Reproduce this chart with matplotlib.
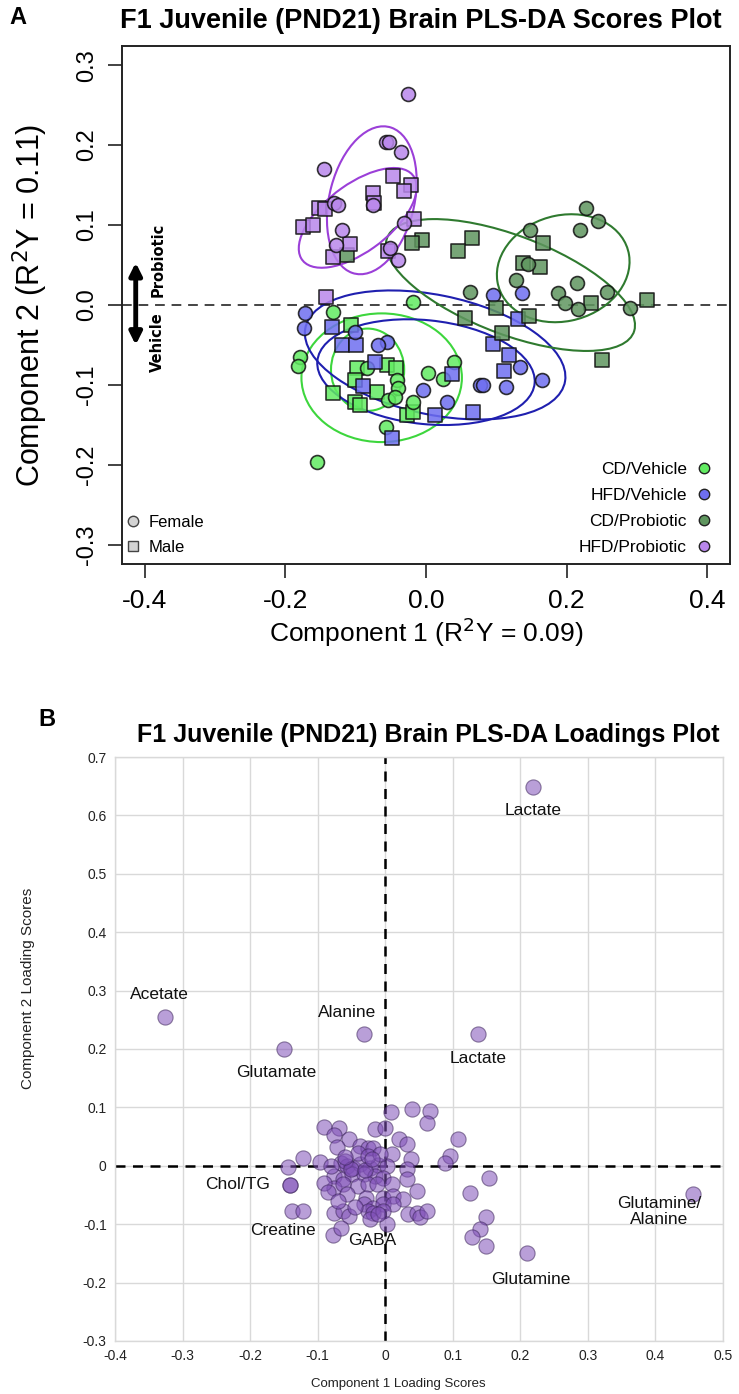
import matplotlib
matplotlib.use("Agg")
import matplotlib.pyplot as plt
from matplotlib import font_manager as fm
from matplotlib.patches import Ellipse
from matplotlib.lines import Line2D

names = {f.name for f in fm.fontManager.ttflist}
NARROW = 'Liberation Sans Narrow' if 'Liberation Sans Narrow' in names else 'Liberation Sans'
ARIAL = 'Liberation Sans'

# ---------------- Panel A data (PLS-DA scores) ----------------
groups = ["CD/Vehicle", "HFD/Vehicle", "CD/Probiotic", "HFD/Probiotic"]
group_colors = ["#62EC62", "#6E6EF0", "#5F965F", "#B987EB"]
ellipse_colors = ["#3DD63D", "#1F1FAF", "#2F7A2F", "#9B3FD8"]

cdveh_f_x = [-0.132, -0.018, -0.179, -0.182, -0.084, -0.041, -0.040, 0.003, 0.024, 0.040, -0.054, -0.044, -0.018, -0.057, -0.155]
cdveh_f_y = [-0.009, 0.004, -0.065, -0.076, -0.079, -0.094, -0.104, -0.085, -0.093, -0.071, -0.119, -0.115, -0.121, -0.153, -0.197]
cdveh_m_x = [-0.107, -0.098, -0.055, -0.043, -0.101, -0.070, -0.132, -0.101, -0.094, -0.027, -0.018]
cdveh_m_y = [-0.025, -0.079, -0.075, -0.079, -0.094, -0.109, -0.110, -0.121, -0.125, -0.138, -0.134]

hfdveh_f_x = [-0.172, -0.173, -0.101, -0.055, -0.068, -0.004, 0.030, 0.077, 0.095, 0.137, 0.134, 0.165, 0.081, 0.114]
hfdveh_f_y = [-0.010, -0.029, -0.034, -0.046, -0.050, -0.106, -0.121, -0.100, 0.012, 0.015, -0.077, -0.094, -0.100, -0.102]
hfdveh_m_x = [-0.134, -0.119, -0.100, -0.073, -0.090, 0.037, 0.013, 0.067, 0.131, 0.095, 0.118, 0.111, -0.048]
hfdveh_m_y = [-0.027, -0.050, -0.050, -0.071, -0.101, -0.086, -0.138, -0.134, -0.018, -0.049, -0.062, -0.083, -0.166]

cdpro_f_x = [0.227, 0.244, 0.219, 0.148, 0.145, 0.128, 0.215, 0.188, 0.198, 0.216, 0.257, 0.290, 0.063]
cdpro_f_y = [0.121, 0.105, 0.094, 0.094, 0.051, 0.031, 0.028, 0.015, 0.002, -0.005, 0.016, -0.004, 0.016]
cdpro_m_x = [0.166, 0.138, 0.162, 0.065, 0.046, -0.006, -0.020, -0.112, 0.235, 0.314, 0.100, 0.055, 0.146, 0.108, 0.250]
cdpro_m_y = [0.078, 0.052, 0.048, 0.084, 0.068, 0.081, 0.078, 0.062, 0.002, 0.006, -0.004, -0.016, -0.014, -0.035, -0.069]

hfdpro_f_x = [-0.026, -0.057, -0.053, -0.036, -0.145, -0.131, -0.125, -0.075, -0.031, -0.119, -0.128, -0.051, -0.040]
hfdpro_f_y = [0.264, 0.204, 0.204, 0.191, 0.170, 0.128, 0.125, 0.125, 0.103, 0.094, 0.075, 0.071, 0.056]
hfdpro_m_x = [-0.047, -0.021, -0.031, -0.075, -0.074, -0.152, -0.144, -0.175, -0.161, -0.017, -0.108, -0.132, -0.054, -0.142]
hfdpro_m_y = [0.161, 0.150, 0.143, 0.140, 0.127, 0.121, 0.120, 0.097, 0.100, 0.107, 0.076, 0.060, 0.068, 0.010]

# ellipses: group index, centre x, centre y, width, height, angle
ell_group = [0, 0, 1, 1, 2, 2, 3, 3]
ell_cx = [-0.063, -0.083, 0.013, 0.000, 0.195, 0.120, -0.077, -0.097]
ell_cy = [-0.091, -0.081, -0.0625, -0.084, 0.046, 0.025, 0.131, 0.109]
ell_w = [0.228, 0.104, 0.375, 0.310, 0.190, 0.370, 0.120, 0.190]
ell_h = [0.161, 0.103, 0.150, 0.130, 0.133, 0.125, 0.190, 0.087]
ell_ang = [0, 0, -10, -5, 10, -18, -17, 32]

score_xticks = [-0.4, -0.2, 0.0, 0.2, 0.4]
score_xticklabels = ["-0.4", "-0.2", "0.0", "0.2", "0.4"]
score_yticks = [-0.3, -0.2, -0.1, 0.0, 0.1, 0.2, 0.3]
score_yticklabels = ["-0.3", "-0.2", "-0.1", "0.0", "0.1", "0.2", "0.3"]

# ---------------- Panel B data (PLS-DA loadings) ----------------
load_x = [0.219, -0.326, -0.031, 0.138, -0.150, 0.456, 0.210, -0.141, -0.141, -0.138, -0.121,
          0.009, 0.040, 0.066, 0.062, -0.091, -0.068, -0.076, -0.015, -0.001, -0.054, 0.021, 0.032,
          0.107, -0.072, -0.037, -0.026, -0.018, 0.096, 0.088, 0.010, 0.038, -0.121, -0.096, -0.144,
          -0.066, -0.056, -0.047, -0.037, -0.022, -0.010, 0.003, 0.032, 0.032, 0.154,
          -0.076, -0.062, -0.049, -0.032, -0.015, -0.003, 0.125,
          -0.076, -0.062, -0.041, -0.025, -0.012, 0.010, 0.047,
          -0.056, -0.029, -0.003, 0.012, 0.026, -0.032, -0.018, -0.004, 0.012,
          -0.076, -0.063, -0.054, -0.026, -0.018, -0.003, 0.034, 0.047, 0.051, 0.062,
          0.149, 0.140, 0.129, 0.149, -0.078, -0.066, 0.003, -0.022, -0.010,
          -0.041, -0.025, -0.007, -0.059, -0.050, -0.030, -0.020, -0.060, -0.080, -0.090, -0.085, -0.070, -0.045]
load_y = [0.649, 0.255, 0.226, 0.226, 0.200, -0.048, -0.150, -0.033, -0.033, -0.077, -0.077,
          0.092, 0.098, 0.094, 0.074, 0.067, 0.065, 0.053, 0.063, 0.065, 0.046, 0.046, 0.038,
          0.046, 0.033, 0.034, 0.031, 0.031, 0.017, 0.005, 0.021, 0.012, 0.014, 0.007, -0.002,
          0.005, 0.000, -0.003, 0.003, -0.003, 0.002, 0.000, -0.005, -0.022, -0.021,
          -0.017, -0.022, -0.014, -0.014, -0.017, -0.021, -0.046,
          -0.038, -0.031, -0.034, -0.031, -0.031, -0.031, -0.043,
          -0.048, -0.055, -0.055, -0.051, -0.057, -0.065, -0.072, -0.065, -0.065,
          -0.080, -0.077, -0.086, -0.077, -0.080, -0.077, -0.082, -0.080, -0.087, -0.077,
          -0.087, -0.108, -0.122, -0.137, -0.118, -0.106, -0.099, -0.091, -0.082,
          0.022, 0.017, 0.021, 0.009, -0.005, -0.008, 0.012, 0.015, 0.000, -0.030, -0.045, -0.060, -0.070]

lab_text = ["Lactate", "Acetate", "Alanine", "Lactate", "Glutamate", "Glutamine/\nAlanine",
            "Glutamine", "Chol/TG", "Creatine", "GABA"]
lab_x = [0.219, -0.335, -0.057, 0.138, -0.162, 0.405, 0.215, -0.219, -0.151, -0.019]
lab_y = [0.608, 0.294, 0.262, 0.183, 0.159, -0.078, -0.195, -0.032, -0.111, -0.128]

load_xticks = [-0.4, -0.3, -0.2, -0.1, 0.0, 0.1, 0.2, 0.3, 0.4, 0.5]
load_xticklabels = ["-0.4", "-0.3", "-0.2", "-0.1", "0", "0.1", "0.2", "0.3", "0.4", "0.5"]
load_yticks = [-0.3, -0.2, -0.1, 0.0, 0.1, 0.2, 0.3, 0.4, 0.5, 0.6, 0.7]
load_yticklabels = ["-0.3", "-0.2", "-0.1", "0", "0.1", "0.2", "0.3", "0.4", "0.5", "0.6", "0.7"]

W, H = 739, 1394
fig = plt.figure(figsize=(W / 100, H / 100), dpi=100)

def fx(px):
    return px / W

def fy(py):
    return 1 - py / H

# ================= Panel A =================
AX_L, AX_R, AX_T, AX_B = 122, 730, 46, 564
ax1 = fig.add_axes([fx(AX_L), fy(AX_B), (AX_R - AX_L) / W, (AX_B - AX_T) / H])
ax1.set_xlim(-0.432, 0.432)
ax1.set_ylim(-0.324, 0.324)

ax1.axhline(0, color="#444444", lw=1.4, ls=(0, (5, 3.5)), zorder=1)

for g, cx, cy, w, h, a in zip(ell_group, ell_cx, ell_cy, ell_w, ell_h, ell_ang):
    ax1.add_patch(Ellipse((cx, cy), w, h, angle=a, fill=False,
                          edgecolor=ellipse_colors[g], lw=1.5, zorder=2))

female = [(cdveh_f_x, cdveh_f_y), (hfdveh_f_x, hfdveh_f_y), (cdpro_f_x, cdpro_f_y), (hfdpro_f_x, hfdpro_f_y)]
male = [(cdveh_m_x, cdveh_m_y), (hfdveh_m_x, hfdveh_m_y), (cdpro_m_x, cdpro_m_y), (hfdpro_m_x, hfdpro_m_y)]
for i in range(4):
    ax1.scatter(*male[i], marker="s", s=92, c=group_colors[i], edgecolors="#111111",
                linewidths=1.2, alpha=0.85, zorder=3)
    ax1.scatter(*female[i], marker="o", s=100, c=group_colors[i], edgecolors="#111111",
                linewidths=1.2, alpha=0.85, zorder=3)

ax1.set_xticks(score_xticks)
ax1.set_xticklabels(score_xticklabels, fontfamily=NARROW, fontsize=19)
ax1.set_yticks(score_yticks)
ax1.set_yticklabels(score_yticklabels, fontfamily=NARROW, fontsize=17, rotation=90, va="center")
ax1.tick_params(axis="both", direction="out", length=10, width=1.2, color="#222222")
ax1.tick_params(axis="x", pad=8)
ax1.tick_params(axis="y", pad=7)
for sp in ax1.spines.values():
    sp.set_linewidth(1.4)
    sp.set_color("#222222")

ax1.set_xlabel("Component 1 (R$^2$Y = 0.09)", fontfamily=ARIAL, fontsize=19, labelpad=2)
ax1.set_ylabel("Component 2 (R$^2$Y = 0.11)", fontfamily=ARIAL, fontsize=22, labelpad=19)

fig.text(fx(421), fy(21), "F1 Juvenile (PND21) Brain PLS-DA Scores Plot", ha="center", va="center",
         fontfamily=NARROW, fontweight="bold", fontsize=19.5)
fig.text(fx(9), fy(18), "A", ha="left", va="center", fontfamily=ARIAL, fontweight="bold", fontsize=17)

# Vehicle / Probiotic arrow
ax1.annotate("", xy=(-0.4125, 0.053), xytext=(-0.4125, -0.050),
             arrowprops=dict(arrowstyle="<|-|>", color="black", lw=3.5, mutation_scale=18,
                             shrinkA=0, shrinkB=0), zorder=4)
ax1.text(-0.381, 0.010, "Probiotic", rotation=90, rotation_mode="anchor", ha="left", va="center",
         fontfamily="DejaVu Sans", fontweight="bold", fontsize=10.5)
ax1.text(-0.381, -0.009, "Vehicle", rotation=90, rotation_mode="anchor", ha="right", va="center",
         fontfamily="DejaVu Sans", fontweight="bold", fontsize=10.5)

# legends
h_groups = [Line2D([], [], ls="none", marker="o", markersize=7.5, markerfacecolor=c,
                   markeredgecolor="#222222", markeredgewidth=1.0) for c in group_colors]
leg1 = ax1.legend(h_groups, groups, loc="lower right", bbox_to_anchor=(0.972, 0.017),
                  markerfirst=False, frameon=False, prop={"family": NARROW, "size": 12.5},
                  handletextpad=0.5, labelspacing=0.62, borderaxespad=0.0, borderpad=0.0,
                  handlelength=1.0)
ax1.add_artist(leg1)
h_sex = [Line2D([], [], ls="none", marker="o", markersize=7.5, markerfacecolor="#D3D3D3",
                markeredgecolor="#444444", markeredgewidth=1.0),
         Line2D([], [], ls="none", marker="s", markersize=7.5, markerfacecolor="#D3D3D3",
                markeredgecolor="#444444", markeredgewidth=1.0)]
ax1.legend(h_sex, ["Female", "Male"], loc="lower left", bbox_to_anchor=(0.005, 0.017),
           frameon=False, prop={"family": NARROW, "size": 12}, handletextpad=0.4,
           labelspacing=0.6, borderaxespad=0.0, borderpad=0.0, handlelength=1.0)

# ================= Panel B =================
ax2 = fig.add_axes([fx(115), fy(1341), (723 - 115) / W, (1341 - 757) / H])
ax2.set_xlim(-0.4, 0.5)
ax2.set_ylim(-0.3, 0.7)
ax2.set_xticks(load_xticks)
ax2.set_xticklabels(load_xticklabels, fontfamily=ARIAL, fontsize=10, color="#222222")
ax2.set_yticks(load_yticks)
ax2.set_yticklabels(load_yticklabels, fontfamily=ARIAL, fontsize=10, color="#222222")
ax2.tick_params(axis="both", length=0, pad=6)
ax2.grid(True, color="#D9D9D9", lw=1.0)
ax2.set_axisbelow(True)
for sp in ax2.spines.values():
    sp.set_color("#D9D9D9")
    sp.set_linewidth(1.0)

ax2.axhline(0, color="black", lw=1.8, ls=(0, (4, 3)), zorder=1)
ax2.axvline(0, color="black", lw=1.8, ls=(0, (4, 3)), zorder=1)

ax2.scatter(load_x, load_y, s=120, c="#8050B8", alpha=0.55, edgecolors="#3A2358",
            linewidths=0.8, zorder=3)
for t, x, y in zip(lab_text, lab_x, lab_y):
    ax2.text(x, y, t, ha="center", va="center", fontfamily=ARIAL, fontsize=12.5,
             color="#111111", zorder=4, linespacing=1.1)

fig.text(fx(428), fy(735), "F1 Juvenile (PND21) Brain PLS-DA Loadings Plot", ha="center", va="center",
         fontfamily=NARROW, fontweight="bold", fontsize=18)
fig.text(fx(38), fy(720), "B", ha="left", va="center", fontfamily=ARIAL, fontweight="bold", fontsize=17)
fig.text(fx(398), fy(1384), "Component 1 Loading Scores", ha="center", va="center",
         fontfamily=ARIAL, fontsize=9.5, color="#222222")
fig.text(fx(28), fy(988), "Component 2 Loading Scores", ha="center", va="center", rotation=90,
         fontfamily=ARIAL, fontsize=11, color="#222222")

fig.savefig("out.png", dpi=100)
